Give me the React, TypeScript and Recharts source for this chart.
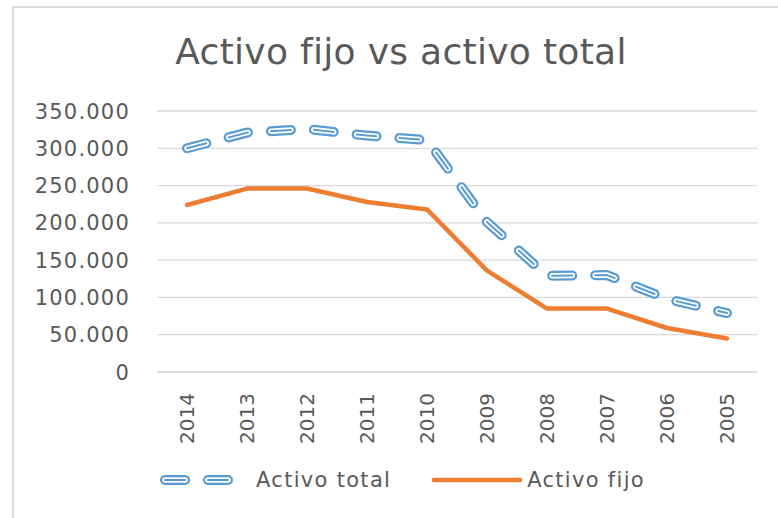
import React from 'react';
import { LineChart, Line, XAxis, YAxis, CartesianGrid, Legend } from 'recharts';

const years = ['2014', '2013', '2012', '2011', '2010', '2009', '2008', '2007', '2006', '2005'];
const activoTotal = [300000, 321000, 326000, 317000, 311000, 201000, 129000, 130000, 98000, 79000];
const activoFijo = [224000, 246000, 246000, 228000, 218000, 136000, 85000, 85000, 59000, 45000];
const yTicks = [0, 50000, 100000, 150000, 200000, 250000, 300000, 350000];

const data = years.map((y, i) => ({ year: y, total: activoTotal[i], fijo: activoFijo[i] }));

const TEXT = '#595959';
const FONT = '"DejaVu Sans", Verdana, sans-serif';
const BLUE = '#5b9bd5';
const ORANGE = '#ed7d31';
const DASH = '20 23';

const fmt = (v: number) => (v === 0 ? '0' : v.toLocaleString('de-DE'));

const YTick = (props: any) => {
  const { x, y, payload } = props;
  return (
    <text x={x} y={y} dy="0.36em" textAnchor="end" fill={TEXT} fontSize={21} fontFamily={FONT} letterSpacing={1.2}>
      {fmt(payload.value)}
    </text>
  );
};

const XTick = (props: any) => {
  const { x, y, payload } = props;
  return (
    <text
      x={x}
      y={y + 13}
      transform={`rotate(-90, ${x}, ${y + 13})`}
      textAnchor="end"
      dy="0.36em"
      fill={TEXT}
      fontSize={20}
      fontFamily={FONT}
    >
      {payload.value}
    </text>
  );
};

const LegendContent = () => (
  <div style={{ display: 'flex', alignItems: 'center', paddingLeft: 158, fontFamily: FONT, fontSize: 21, color: TEXT, letterSpacing: 1.3 }}>
    <svg width={80} height={16}>
      <line x1={7} y1={8} x2={76} y2={8} stroke={BLUE} strokeWidth={10} strokeDasharray={DASH} strokeLinecap="round" />
      <line x1={7} y1={8} x2={76} y2={8} stroke="#fff" strokeWidth={5.5} strokeDasharray={DASH} strokeLinecap="round" />
      <line x1={7} y1={8} x2={76} y2={8} stroke={BLUE} strokeWidth={2} strokeDasharray={DASH} strokeLinecap="round" />
    </svg>
    <span style={{ marginLeft: 18 }}>Activo total</span>
    <svg width={92} height={16} style={{ marginLeft: 40 }}>
      <line x1={3} y1={8} x2={89} y2={8} stroke={ORANGE} strokeWidth={4.5} strokeLinecap="round" />
    </svg>
    <span style={{ marginLeft: 4 }}>Activo fijo</span>
  </div>
);

export default function App() {
  return (
    <div style={{ position: 'absolute', left: 0, top: 0, width: 778, height: 518, overflow: 'hidden', background: '#fff' }}>
      <div style={{ position: 'absolute', left: 12, top: 6, width: 900, height: 700, borderLeft: '2px solid #d9d9d9', borderTop: '2px solid #d9d9d9' }} />
      <svg width={778} height={100} style={{ position: 'absolute', left: 0, top: 0 }}>
        <text x={401} y={64} textAnchor="middle" fill={TEXT} fontSize={36} fontFamily={FONT} letterSpacing={0.3}>
          Activo fijo vs activo total
        </text>
      </svg>
      <div style={{ position: 'absolute', left: 0, top: 0 }}>
        <LineChart width={778} height={518} data={data} margin={{ top: 111, right: 21, bottom: 0, left: 0 }}>
          <CartesianGrid horizontal vertical={false} stroke="#d9d9d9" strokeWidth={1.3} />
          <XAxis
            dataKey="year"
            height={146}
            padding={{ left: 30, right: 30 }}
            tickLine={false}
            axisLine={{ stroke: '#d9d9d9', strokeWidth: 1.3 }}
            tick={<XTick />}
            interval={0}
          />
          <YAxis
            width={157}
            domain={[0, 350000]}
            ticks={yTicks}
            tickLine={false}
            axisLine={false}
            tickMargin={21}
            tick={<YTick />}
          />
          <Legend verticalAlign="middle" layout="horizontal" content={<LegendContent />} wrapperStyle={{ top: 468, left: 0, width: 778 }} />
          <Line dataKey="total" stroke={BLUE} strokeWidth={10} strokeDasharray={DASH} strokeLinecap="round" strokeLinejoin="round" dot={false} isAnimationActive={false} legendType="none" />
          <Line dataKey="total" stroke="#ffffff" strokeWidth={5.5} strokeDasharray={DASH} strokeLinecap="round" strokeLinejoin="round" dot={false} isAnimationActive={false} legendType="none" />
          <Line dataKey="total" stroke={BLUE} strokeWidth={2} strokeDasharray={DASH} strokeLinecap="round" strokeLinejoin="round" dot={false} isAnimationActive={false} name="Activo total" />
          <Line dataKey="fijo" stroke={ORANGE} strokeWidth={4.5} strokeLinecap="round" strokeLinejoin="round" dot={false} isAnimationActive={false} name="Activo fijo" />
        </LineChart>
      </div>
    </div>
  );
}
